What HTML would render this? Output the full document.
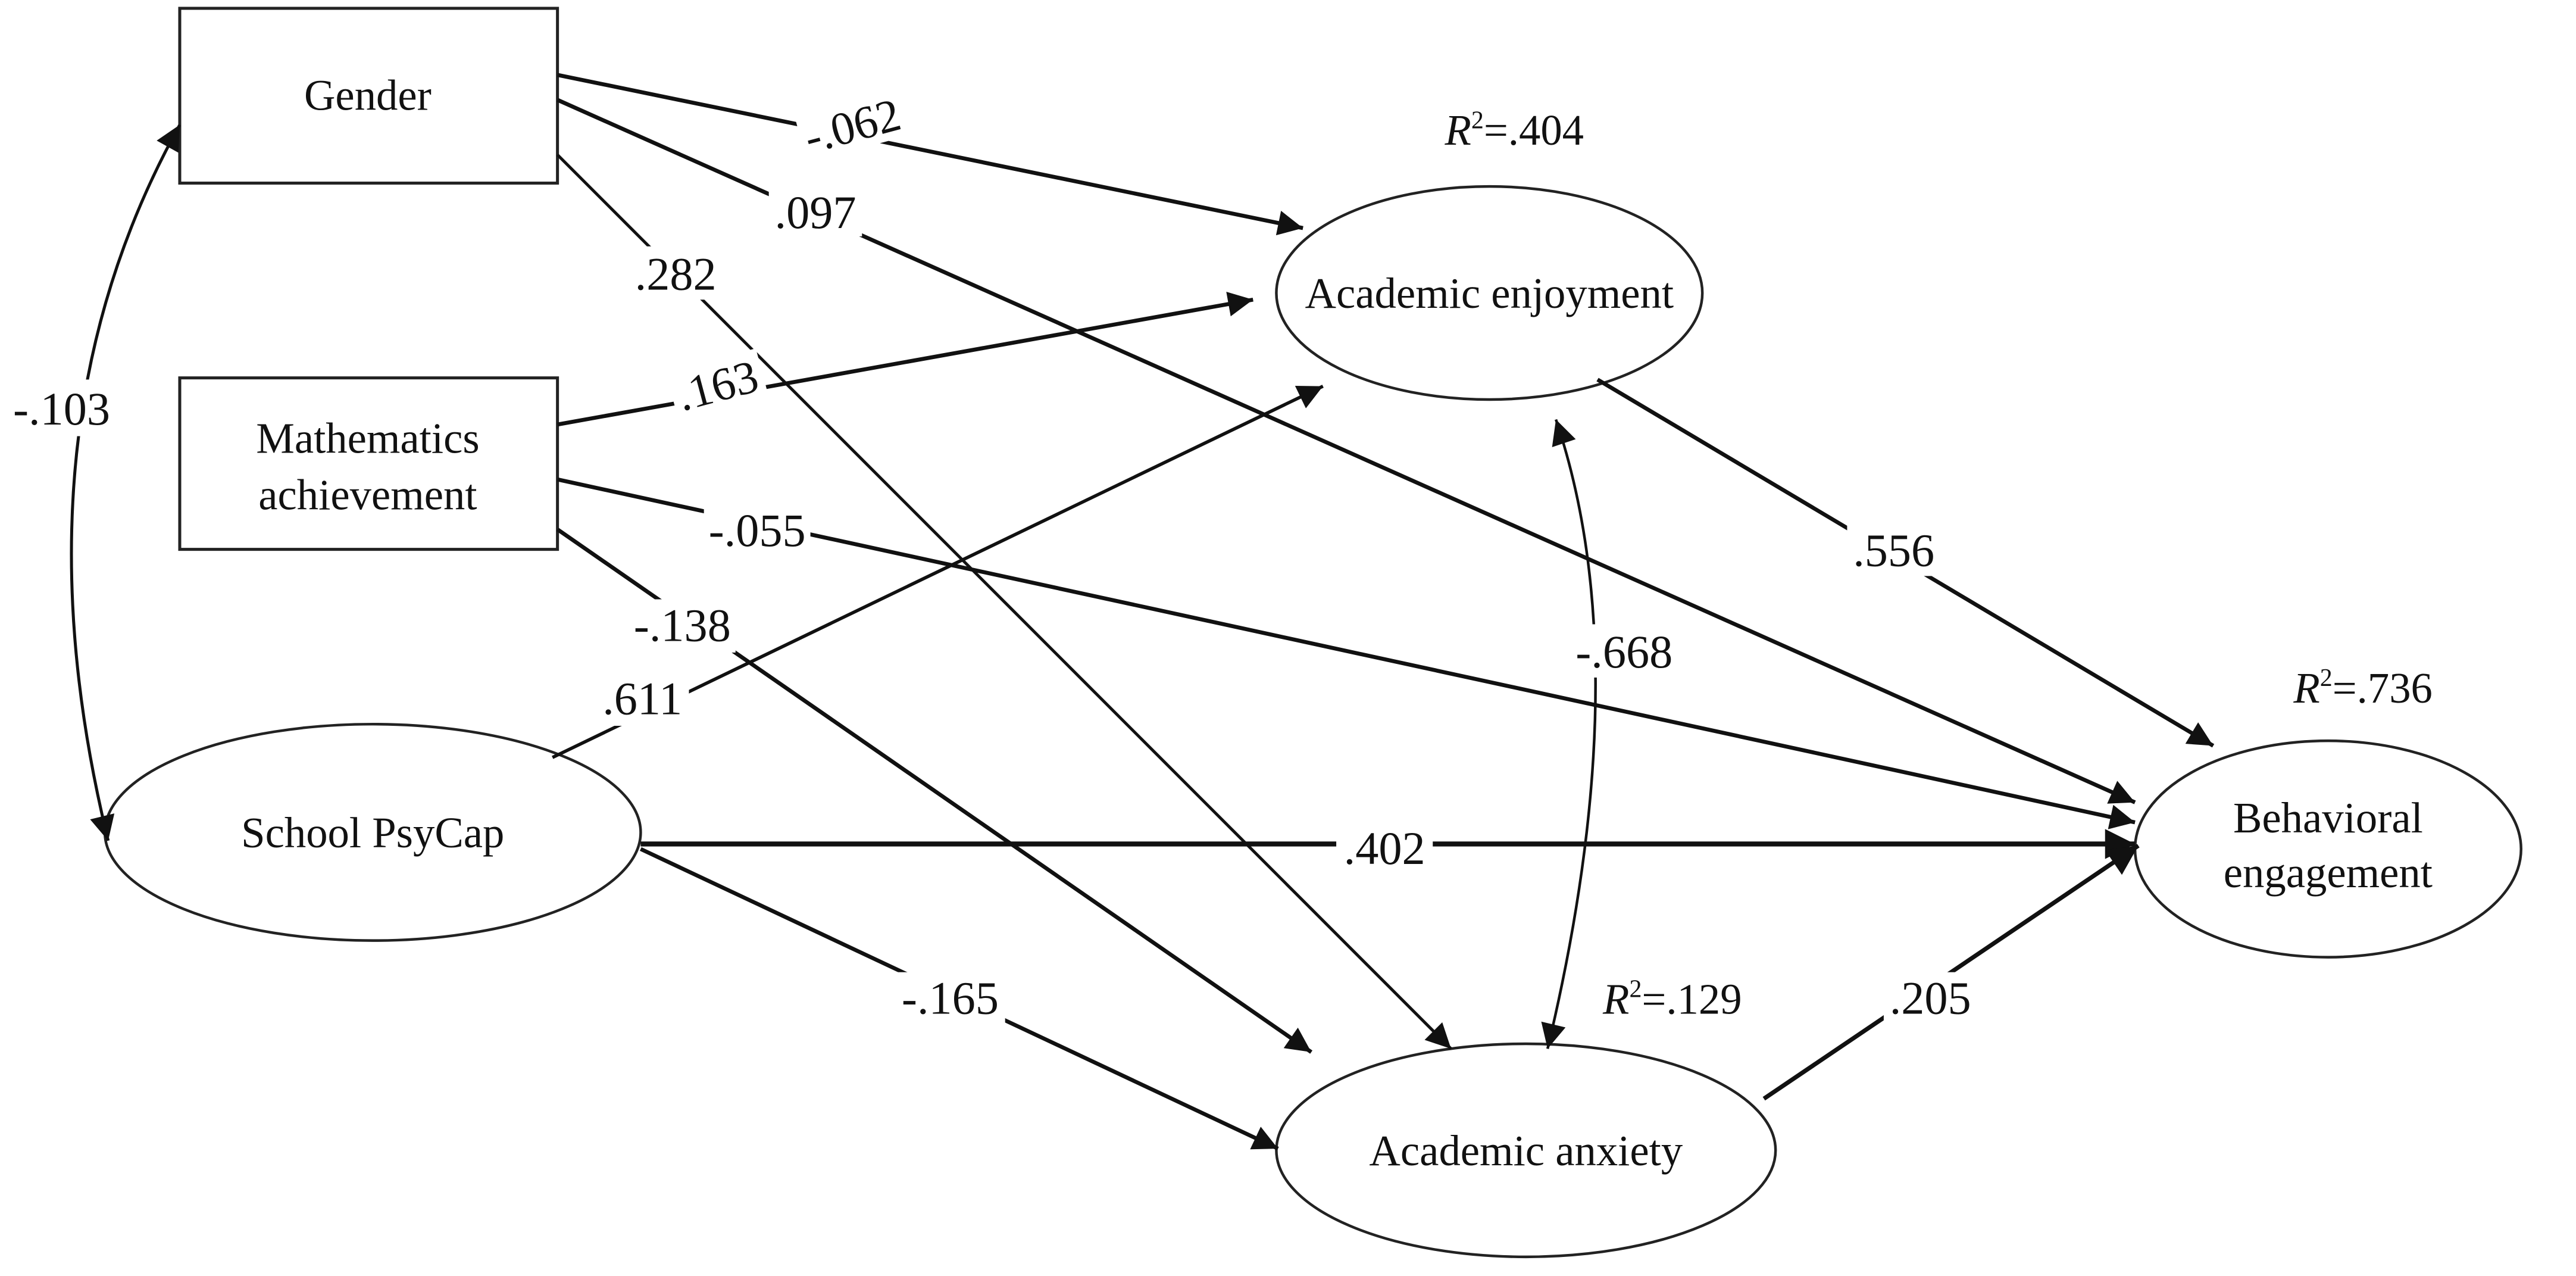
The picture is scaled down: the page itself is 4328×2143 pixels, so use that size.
<!DOCTYPE html>
<html><head><meta charset="utf-8"><style>html,body{margin:0;padding:0;background:#fff}svg{display:block}</style></head>
<body>
<svg width="4328" height="2143" viewBox="0 0 1548 766.5" xmlns="http://www.w3.org/2000/svg" font-family="'Liberation Serif', serif">
<defs>
<marker id="b" viewBox="0 0 10 10" refX="10" refY="5" markerWidth="32" markerHeight="18" markerUnits="userSpaceOnUse" orient="auto"><path d="M0,0 L10,5 L0,10 z" fill="#111"/></marker>
<marker id="s" viewBox="0 0 10 10" refX="10" refY="5" markerWidth="26" markerHeight="15" markerUnits="userSpaceOnUse" orient="auto"><path d="M0,0 L10,5 L0,10 z" fill="#111"/></marker>
<marker id="sr" viewBox="0 0 10 10" refX="0" refY="5" markerWidth="26" markerHeight="15" markerUnits="userSpaceOnUse" orient="auto"><path d="M10,0 L0,5 L10,10 z" fill="#111"/></marker>
</defs>
<rect width="1548" height="766.5" fill="#fff"/>
<g stroke="#222" stroke-width="2.2" fill="none">
<rect x="108" y="5" width="227" height="105" fill="#fff" stroke-width="1.8"/>
<rect x="108" y="227" width="227" height="103" fill="#fff" stroke-width="1.8"/>
<ellipse cx="224" cy="500" rx="161" ry="65" stroke-width="1.6"/>
<ellipse cx="895" cy="176" rx="128" ry="64" stroke-width="1.6"/>
<ellipse cx="917" cy="691" rx="150" ry="64" stroke-width="1.6"/>
<ellipse cx="1399" cy="510" rx="116" ry="65" stroke-width="1.6"/>
</g>
<g stroke="#111" stroke-width="2.4" fill="none">
<line x1="335" y1="45" x2="783" y2="137" marker-end="url(#s)"/>
<line x1="335" y1="60" x2="1283" y2="482" marker-end="url(#s)"/>
<line x1="335" y1="93" x2="872" y2="630" marker-end="url(#s)" stroke-width="1.8"/>
<line x1="335" y1="255" x2="753" y2="180" marker-end="url(#s)"/>
<line x1="335" y1="288" x2="1283" y2="494" marker-end="url(#s)"/>
<line x1="335" y1="318" x2="788" y2="632" marker-end="url(#s)"/>
<line x1="332" y1="455" x2="795" y2="232" marker-end="url(#s)" stroke-width="2"/>
<line x1="385" y1="507" x2="1283" y2="507" marker-end="url(#b)" stroke-width="3"/>
<line x1="385" y1="510" x2="768" y2="690" marker-end="url(#s)"/>
<line x1="960" y1="228" x2="1330" y2="448" marker-end="url(#s)"/>
<line x1="1060" y1="660" x2="1285" y2="508" marker-end="url(#b)" stroke-width="2.6"/>
<path d="M935,252 Q985,400 930,630" marker-start="url(#sr)" marker-end="url(#s)" stroke-width="1.6"/>
<path d="M108,75 Q5,260 65,505" marker-start="url(#sr)" marker-end="url(#s)" stroke-width="1.8"/>
</g>
<g font-size="26" fill="#111" text-anchor="middle">
<text x="221" y="66">Gender</text>
<text x="221" y="272">Mathematics</text>
<text x="221" y="306">achievement</text>
<text x="224" y="509">School PsyCap</text>
<text x="895" y="185">Academic enjoyment</text>
<text x="917" y="700">Academic anxiety</text>
<text x="1399" y="500">Behavioral</text>
<text x="1399" y="533">engagement</text>
</g>
<g font-size="28" fill="#111" text-anchor="middle">
<rect x="8" y="228" width="60" height="34" fill="#fff"/><text x="37" y="255">-.103</text>
<rect x="480" y="60" width="64" height="30" fill="#fff" transform="rotate(-15 512 75)"/>
<text x="512" y="85" transform="rotate(-15 512 75)">-.062</text>
<rect x="462" y="112" width="56" height="30" fill="#fff"/>
<text x="490" y="137">.097</text>
<rect x="378" y="148" width="56" height="32" fill="#fff"/>
<text x="406" y="174">.282</text>
<rect x="403" y="216" width="56" height="30" fill="#fff" transform="rotate(-15 431 231)"/>
<text x="431" y="241" transform="rotate(-15 431 231)">.163</text>
<rect x="423" y="302" width="64" height="32" fill="#fff"/>
<text x="455" y="328">-.055</text>
<rect x="378" y="360" width="64" height="32" fill="#fff"/>
<text x="410" y="385">-.138</text>
<rect x="358" y="404" width="56" height="32" fill="#fff"/>
<text x="386" y="429">.611</text>
<rect x="803" y="494" width="58" height="30" fill="#fff"/>
<text x="832" y="519">.402</text>
<rect x="538" y="584" width="66" height="32" fill="#fff"/>
<text x="571" y="609">-.165</text>
<rect x="1110" y="314" width="56" height="32" fill="#fff"/>
<text x="1138" y="340">.556</text>
<rect x="1132" y="584" width="56" height="32" fill="#fff"/>
<text x="1160" y="609">.205</text>
<rect x="945" y="375" width="62" height="32" fill="#fff"/>
<text x="976" y="401">-.668</text>
</g>
<g font-size="26" fill="#111" text-anchor="middle">
<text x="910" y="87"><tspan font-style="italic">R</tspan><tspan font-size="15" dy="-10">2</tspan><tspan dy="10">=.404</tspan></text>
<text x="1420" y="422"><tspan font-style="italic">R</tspan><tspan font-size="15" dy="-10">2</tspan><tspan dy="10">=.736</tspan></text>
<text x="1005" y="609"><tspan font-style="italic">R</tspan><tspan font-size="15" dy="-10">2</tspan><tspan dy="10">=.129</tspan></text>
</g>
</svg>
</body></html>
